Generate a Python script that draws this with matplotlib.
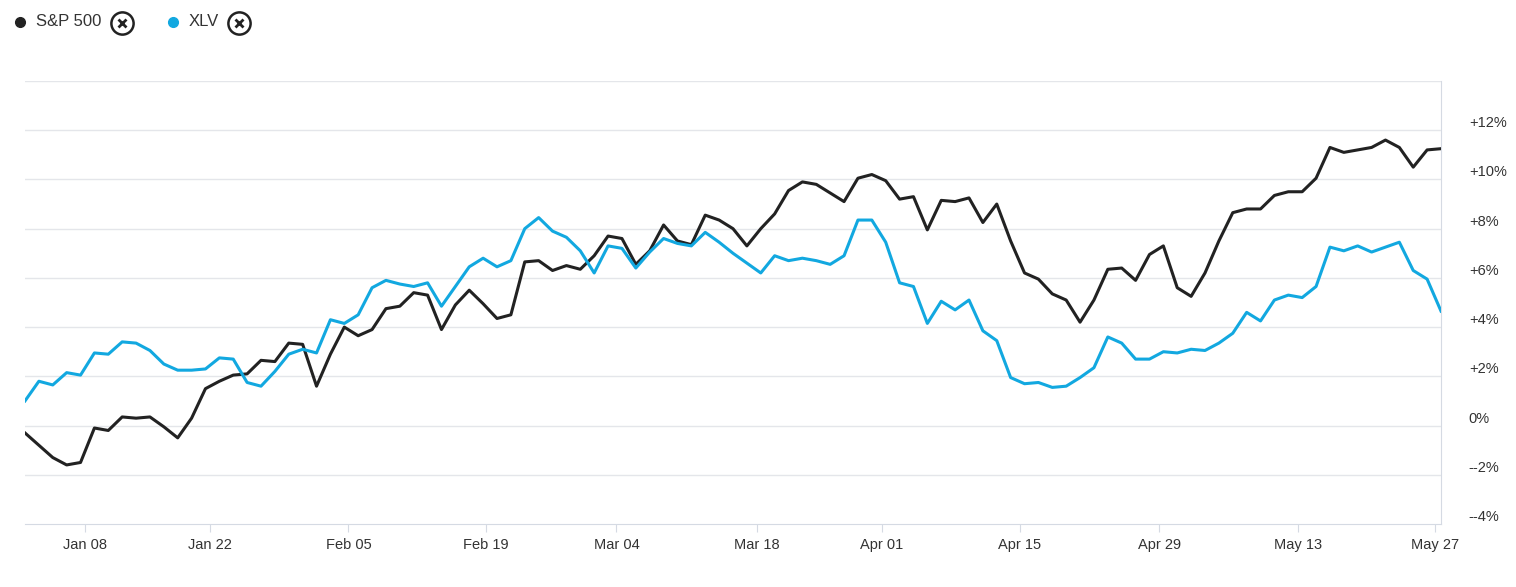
import matplotlib
matplotlib.use("Agg")
import matplotlib.pyplot as plt
import numpy as np

plt.rcParams['font.family'] = ['Liberation Sans', 'DejaVu Sans']

sp500 = [-0.3, -0.8, -1.3, -1.6, -1.5, -0.1, -0.2, 0.35, 0.3, 0.35, -0.05, -0.5, 0.3, 1.5, 1.8,
         2.05, 2.1, 2.65, 2.6, 3.35, 3.3, 1.6, 2.9, 4.0, 3.65, 3.9, 4.75, 4.85, 5.4, 5.3,
         3.9, 4.9, 5.5, 4.95, 4.35, 4.5, 6.65, 6.7, 6.3, 6.5, 6.35, 6.9, 7.7, 7.6, 6.55,
         7.1, 8.15, 7.5, 7.35, 8.55, 8.35, 8.0, 7.3, 8.0, 8.6, 9.55, 9.9, 9.8, 9.45, 9.1,
         10.05, 10.2, 9.95, 9.2, 9.3, 7.95, 9.15, 9.1, 9.25, 8.25, 9.0, 7.5, 6.2, 5.95, 5.35,
         5.1, 4.2, 5.1, 6.35, 6.4, 5.9, 6.95, 7.3, 5.6, 5.25, 6.2, 7.5, 8.65, 8.8, 8.8,
         9.35, 9.5, 9.5, 10.05, 11.3, 11.1, 11.2, 11.3, 11.6, 11.3, 10.5, 11.2, 11.25]
xlv = [1.0, 1.8, 1.65, 2.15, 2.05, 2.95, 2.9, 3.4, 3.35, 3.05, 2.5, 2.25, 2.25, 2.3, 2.75,
       2.7, 1.75, 1.6, 2.2, 2.9, 3.1, 2.95, 4.3, 4.15, 4.5, 5.6, 5.9, 5.75, 5.65, 5.8,
       4.85, 5.65, 6.45, 6.8, 6.45, 6.7, 8.0, 8.45, 7.9, 7.65, 7.1, 6.2, 7.3, 7.2, 6.4,
       7.05, 7.6, 7.4, 7.3, 7.85, 7.45, 7.0, 6.6, 6.2, 6.9, 6.7, 6.8, 6.7, 6.55, 6.9,
       8.35, 8.35, 7.45, 5.8, 5.65, 4.15, 5.05, 4.7, 5.1, 3.85, 3.45, 1.95, 1.7, 1.75, 1.55,
       1.6, 1.95, 2.35, 3.6, 3.35, 2.7, 2.7, 3.0, 2.95, 3.1, 3.05, 3.35, 3.75, 4.6, 4.25,
       5.1, 5.3, 5.2, 5.65, 7.25, 7.1, 7.3, 7.05, 7.25, 7.45, 6.3, 5.95, 4.65]

date_labels = ['Jan 08', 'Jan 22', 'Feb 05', 'Feb 19', 'Mar 04', 'Mar 18', 'Apr 01',
               'Apr 15', 'Apr 29', 'May 13', 'May 27']
date_pos = [4.35, 13.3, 23.3, 33.2, 42.6, 52.7, 61.7, 71.65, 81.7, 91.7, 101.6]
y_ticks = [-4, -2, 0, 2, 4, 6, 8, 10, 12]
y_labels = ['--4%', '--2%', '0%', '+2%', '+4%', '+6%', '+8%', '+10%', '+12%']

black = '#222222'
blue = '#12a8e0'
gridc = '#e4e6ea'

fig = plt.figure(figsize=(15.16, 5.87), dpi=100)
ax = fig.add_axes([25 / 1516, 1 - 524 / 587, (1441 - 25) / 1516, (524 - 81) / 587])

x = np.arange(len(sp500))
ax.plot(x, sp500, color=black, lw=2.2, zorder=3)
ax.plot(np.arange(len(xlv)), xlv, color=blue, lw=2.2, zorder=3)

ax.set_xlim(0, len(sp500) - 1)
ax.set_ylim(-4, 14)
for yv in [-2, 0, 2, 4, 6, 8, 10, 12, 14]:
    ax.axhline(yv, color=gridc, lw=1, zorder=1)

for s in ['top', 'left']:
    ax.spines[s].set_visible(False)
ax.spines['right'].set_color('#d5dae3')
ax.spines['bottom'].set_color('#d5dae3')

ax.yaxis.tick_right()
ax.set_yticks(y_ticks)
ax.set_yticklabels(y_labels)
ax.tick_params(axis='y', length=0, pad=20, labelsize=10.5, labelcolor='#333333')
for lab in ax.get_yticklabels():
    lab.set_verticalalignment('bottom')
ax.set_xticks(date_pos)
ax.set_xticklabels(date_labels)
ax.tick_params(axis='x', length=6, color='#d5dae3', labelsize=10.5, labelcolor='#333333', pad=4)

# legend at top
def legend_item(xp, color, label, xbtn):
    fig.lines.append(plt.Line2D([xp / 1516], [1 - 22 / 587], transform=fig.transFigure,
                                marker='o', ms=7, color=color, lw=0))
    fig.text((xp + 16) / 1516, 1 - 22 / 587, label, fontsize=12, color='#333333', va='center')
    fig.lines.append(plt.Line2D([xbtn / 1516], [1 - 23 / 587], transform=fig.transFigure,
                                marker='o', ms=16, mfc='white', mec='#222222', mew=1.8, lw=0))
    fig.lines.append(plt.Line2D([xbtn / 1516], [1 - 23 / 587], transform=fig.transFigure,
                                marker='x', ms=6, mec='#222222', mew=2, lw=0))

legend_item(20, black, 'S&P 500', 122)
legend_item(173, blue, 'XLV', 239)

fig.savefig('out.png', dpi=100)
